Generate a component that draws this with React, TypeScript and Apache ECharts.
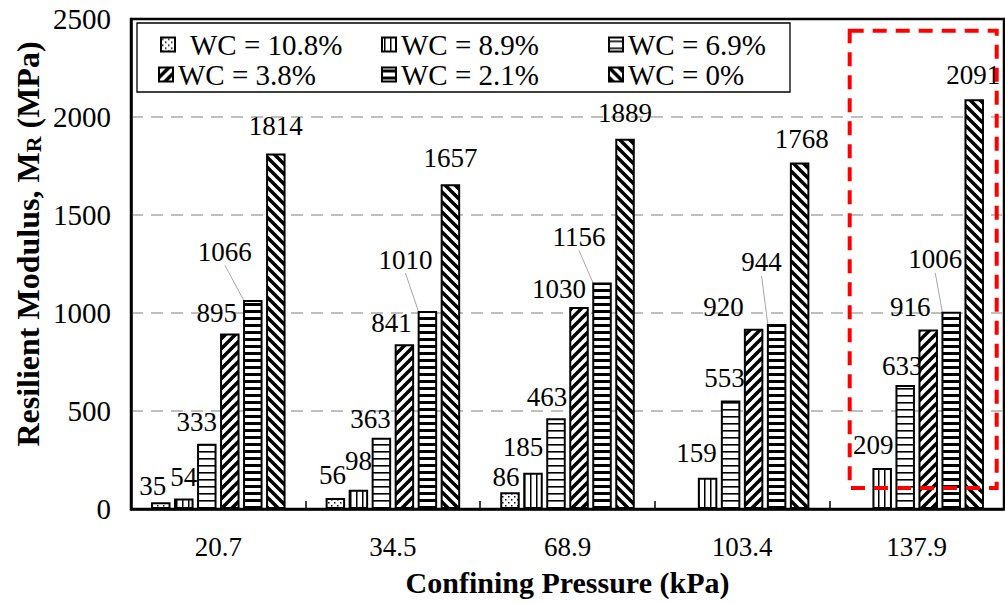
import React, { useEffect, useRef } from 'react';
import * as echarts from 'echarts';

// Confining pressure categories (kPa)
const pressures = ['20.7', '34.5', '68.9', '103.4', '137.9'];

// Resilient modulus (MPa) for each water content
const seriesNames = ['WC = 10.8%', 'WC = 8.9%', 'WC = 6.9%', 'WC = 3.8%', 'WC = 2.1%', 'WC = 0%'];
const wc108 = [35, 56, 86, null, null];
const wc89 = [54, 98, 185, 159, 209];
const wc69 = [333, 363, 463, 553, 633];
const wc38 = [895, 841, 1030, 920, 916];
const wc21 = [1066, 1010, 1156, 944, 1006];
const wc0 = [1814, 1657, 1889, 1768, 2091];

// y axis range
const yMin = 0;
const yMax = 2500;
const yStep = 500;

// label nudges [dx, dy] from the default "top" position
const shift108 = [[-8, 2], [-3, -5], [-4, 3], null, null];
const shift89 = [[0, -3], [0, -10], [-10, -7], [-11, -6], [-9, -5]];
const shift69 = [[-10, -3], [-11, 0], [-9, -3], [-6, -4], [-3, 0]];
const shift38 = [[-13, -2], [-13, -3], [-20, 0], [-30, -3], [-18, -4]];
const shift21 = [[-28, -30], [-22, -33], [-23, -27], [-15, -43], [-16, -34]];
const shift0 = [[0, -9], [0, -8], [0, -7], [2, -5], [-1, -6]];

const SERIF = "'Liberation Serif', 'Times New Roman', serif";

type Draw = (ctx: CanvasRenderingContext2D, w: number, h: number) => void;

function tile(w: number, h: number, draw: Draw) {
  const c = document.createElement('canvas');
  c.width = w;
  c.height = h;
  const ctx = c.getContext('2d')!;
  ctx.fillStyle = '#fff';
  ctx.fillRect(0, 0, w, h);
  ctx.fillStyle = '#000';
  ctx.strokeStyle = '#000';
  draw(ctx, w, h);
  return { image: c.toDataURL(), repeat: 'repeat', imageWidth: w, imageHeight: h };
}

function diagonal(size: number, lw: number, rising: boolean) {
  return tile(size, size, (ctx, s) => {
    ctx.lineWidth = lw;
    ctx.beginPath();
    for (let k = -1; k <= 1; k++) {
      if (rising) {
        ctx.moveTo(k * s - 1, s + 1);
        ctx.lineTo(k * s + s + 1, -1);
      } else {
        ctx.moveTo(k * s - 1, -1);
        ctx.lineTo(k * s + s + 1, s + 1);
      }
    }
    ctx.stroke();
  });
}

function buildPatterns() {
  const dots = tile(6, 6, (ctx) => {
    ctx.fillRect(1, 1, 1.5, 1.5);
    ctx.fillRect(4, 4, 1.5, 1.5);
  });
  const vertical = tile(6, 6, (ctx) => {
    ctx.fillRect(2, 0, 1.5, 6);
  });
  const horizontal = tile(6, 7, (ctx) => {
    ctx.fillRect(0, 3, 6, 1.6);
  });
  const rising = diagonal(10, 3.5, true);
  const boldHorizontal = tile(6, 7, (ctx) => {
    ctx.fillRect(0, 2, 6, 3);
  });
  const falling = diagonal(10, 3.5, false);
  return [dots, vertical, horizontal, rising, boldHorizontal, falling];
}

function buildOption() {
  const patterns = buildPatterns();
  const values = [wc108, wc89, wc69, wc38, wc21, wc0];
  const shifts = [shift108, shift89, shift69, shift38, shift21, shift0];
  const legendSpots = [
    [160, 30],
    [381, 30],
    [608, 30],
    [158, 60],
    [381, 60],
    [608, 60],
  ];

  const series = seriesNames.map((name, s) => ({
    name,
    type: 'bar',
    barWidth: 19.5,
    barGap: '18%',
    itemStyle: { color: patterns[s], borderColor: '#000', borderWidth: 2 },
    label: {
      show: true,
      position: 'top',
      distance: 5,
      fontFamily: SERIF,
      fontSize: 27,
      color: '#000',
    },
    labelLine: {
      show: s === 4,
      lineStyle: { color: '#a6a6a6', width: 1 },
    },
    emphasis: { disabled: true },
    data: values[s].map((v, i) =>
      v == null
        ? null
        : {
            value: v,
            label: { offset: shifts[s][i] || [0, 0] },
          }
    ),
  }));

  const legend = seriesNames.map((name, i) => ({
    data: [name],
    left: legendSpots[i][0],
    top: legendSpots[i][1],
    padding: 0,
    icon: 'rect',
    itemWidth: 14,
    itemHeight: 14,
    selectedMode: false,
    textStyle: {
      fontFamily: SERIF,
      fontSize: 29,
      color: '#000',
      padding: i === 0 ? [0, 0, 0, 10] : 0,
    },
  }));

  return {
    animation: false,
    backgroundColor: '#fff',
    grid: {
      left: 131,
      top: 19,
      width: 873,
      height: 490,
      show: true,
      borderColor: '#000',
      borderWidth: 2.5,
      backgroundColor: 'transparent',
    },
    legend,
    xAxis: {
      type: 'category',
      data: pressures,
      name: 'Confining Pressure (kPa)',
      nameLocation: 'middle',
      nameGap: 58,
      nameTextStyle: { fontFamily: SERIF, fontSize: 30, fontWeight: 'bold', color: '#000' },
      axisLine: { lineStyle: { color: '#000', width: 2.5 } },
      axisTick: { show: true, inside: true, length: 8, lineStyle: { color: '#000', width: 1.5 } },
      axisLabel: { fontFamily: SERIF, fontSize: 27, color: '#000', margin: 24 },
    },
    yAxis: {
      type: 'value',
      min: yMin,
      max: yMax,
      interval: yStep,
      axisLine: { show: true, lineStyle: { color: '#000', width: 2.5 } },
      axisTick: { show: false },
      axisLabel: {
        fontFamily: SERIF,
        fontSize: 29,
        color: '#000',
        margin: 20,
        formatter: (v: number) => String(v),
      },
      splitLine: {
        showMinLine: false,
        showMaxLine: false,
        lineStyle: { color: '#bfbfbf', width: 2, type: [12, 8] },
      },
    },
    series,
  };
}

export default function App() {
  const ref = useRef<HTMLDivElement>(null);

  useEffect(() => {
    const chart = echarts.init(ref.current as HTMLDivElement, null, { renderer: 'svg' });
    chart.setOption(buildOption() as any);

    // frame around the legend, the rotated y title and the dashed box around the last group
    const cx = chart.convertToPixel({ xAxisIndex: 0 }, pressures[4]) as unknown as number;
    const yTop = chart.convertToPixel({ yAxisIndex: 0 }, 2440) as unknown as number;
    const yBottom = chart.convertToPixel({ yAxisIndex: 0 }, 107) as unknown as number;

    chart.setOption({
      graphic: [
        {
          type: 'rect',
          z: 1,
          shape: { x: 137, y: 23, width: 653, height: 69 },
          style: { fill: '#fff', stroke: '#000', lineWidth: 1.3 },
        },
        {
          type: 'text',
          x: 28,
          y: 244,
          rotation: Math.PI / 2,
          style: {
            text: '{b|Resilient Modulus, M}{s|R}{b| (MPa)}',
            align: 'center',
            verticalAlign: 'middle',
            fill: '#000',
            rich: {
              b: { fontFamily: SERIF, fontSize: 32, fontWeight: 'bold', fill: '#000', verticalAlign: 'bottom' },
              s: { fontFamily: SERIF, fontSize: 22, fontWeight: 'bold', fill: '#000', verticalAlign: 'bottom' },
            },
          },
        },
        {
          type: 'rect',
          z: 10,
          shape: { x: cx - 67, y: yTop, width: 147, height: yBottom - yTop },
          style: { fill: 'none', stroke: '#ff0000', lineWidth: 4, lineDash: [14, 9] },
        },
      ],
    });

    return () => chart.dispose();
  }, []);

  return (
    <div
      ref={ref}
      style={{ position: 'fixed', left: 0, top: 0, width: 1005, height: 604, background: '#fff' }}
    />
  );
}
